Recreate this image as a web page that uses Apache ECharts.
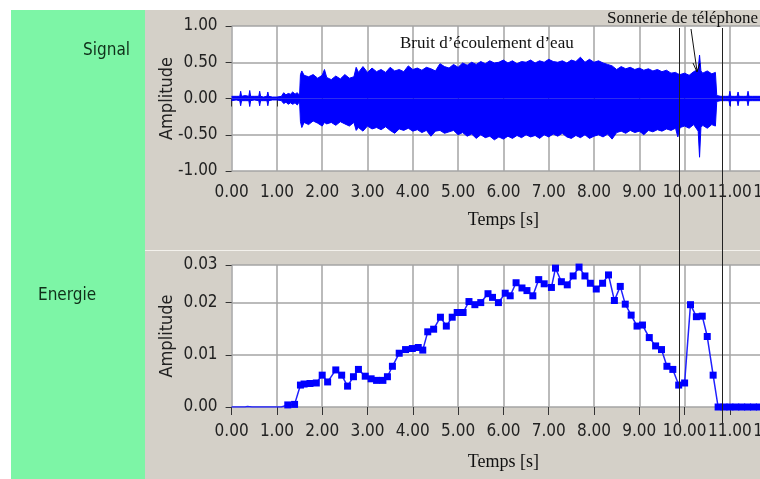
<!DOCTYPE html>
<html>
<head>
<meta charset="utf-8">
<script src="https://cdn.jsdelivr.net/npm/echarts@6/dist/echarts.min.js"></script>
<style>
html,body{margin:0;padding:0;background:#fff;}
#wrap{position:relative;width:760px;height:479px;overflow:hidden;}
#green{position:absolute;left:11px;top:10px;width:134px;height:469px;background:#7df5a6;}
#gray{position:absolute;left:145px;top:10px;width:615px;height:469px;background:#d4d0c8;}
#sep{position:absolute;left:145px;top:250px;width:615px;height:1px;background:#f3f1ec;}
#main{position:absolute;left:0;top:0;width:760px;height:479px;}
</style>
</head>
<body>
<div id="wrap">
  <div id="green"></div>
  <div id="gray"></div>
  <div id="sep"></div>
  <div id="main"></div>
</div>
<script>
// signal: envelope of the waveform (upper / lower)
var sigT  = [0, 0.1, 0.18, 0.2, 0.22, 0.3, 0.38, 0.4, 0.42, 0.5, 0.6, 0.62, 0.64, 0.7, 0.78, 0.8, 0.82, 0.9, 1.0, 1.1,
             1.15, 1.2, 1.25, 1.3, 1.35, 1.4, 1.45, 1.5, 1.52, 1.55, 1.6, 1.7, 1.8, 1.9, 2.0, 2.05, 2.1, 2.2, 2.3, 2.4,
             2.5, 2.6, 2.7, 2.75, 2.8, 2.9, 3.0, 3.1, 3.2, 3.3, 3.4, 3.5, 3.6, 3.7, 3.8, 3.9, 4.0, 4.1, 4.2, 4.3,
             4.4, 4.5, 4.6, 4.7, 4.8, 4.9, 5.0, 5.1, 5.2, 5.3, 5.4, 5.5, 5.6, 5.7, 5.8, 5.9, 6.0, 6.1, 6.2, 6.3,
             6.4, 6.5, 6.6, 6.7, 6.8, 6.9, 7.0, 7.1, 7.2, 7.3, 7.4, 7.5, 7.6, 7.7, 7.8, 7.9, 8.0, 8.1, 8.2, 8.3,
             8.4, 8.5, 8.6, 8.7, 8.8, 8.9, 9.0, 9.1, 9.2, 9.3, 9.4, 9.5, 9.6, 9.7, 9.8, 9.85, 9.9, 10.0, 10.1, 10.2,
             10.3, 10.33, 10.36, 10.4, 10.5, 10.6, 10.68, 10.71, 10.8, 10.9, 10.98, 11.0, 11.02, 11.1, 11.16, 11.18, 11.2, 11.3, 11.38, 11.4,
             11.42, 11.5, 11.6, 11.8, 12.0];
var sigHi = [0.03, 0.03, 0.03, 0.10, 0.03, 0.04, 0.03, 0.11, 0.03, 0.03, 0.03, 0.10, 0.03, 0.02, 0.03, 0.09, 0.03, 0.02, 0.02, 0.03,
             0.08, 0.05, 0.07, 0.06, 0.09, 0.06, 0.08, 0.04, 0.33, 0.38, 0.32, 0.30, 0.33, 0.28, 0.32, 0.40, 0.29, 0.26, 0.31, 0.27,
             0.33, 0.28, 0.30, 0.43, 0.36, 0.44, 0.36, 0.42, 0.37, 0.40, 0.36, 0.43, 0.38, 0.40, 0.37, 0.45, 0.40, 0.42, 0.39, 0.43,
             0.41, 0.38, 0.48, 0.44, 0.42, 0.47, 0.43, 0.49, 0.46, 0.50, 0.47, 0.51, 0.48, 0.52, 0.49, 0.50, 0.53, 0.49, 0.52, 0.48,
             0.51, 0.50, 0.53, 0.49, 0.52, 0.50, 0.54, 0.51, 0.50, 0.52, 0.49, 0.53, 0.51, 0.57, 0.50, 0.54, 0.50, 0.52, 0.49, 0.47,
             0.45, 0.40, 0.44, 0.41, 0.43, 0.40, 0.42, 0.39, 0.41, 0.38, 0.40, 0.37, 0.39, 0.35, 0.36, 0.34, 0.33, 0.35, 0.32, 0.37,
             0.40, 0.60, 0.38, 0.35, 0.38, 0.34, 0.36, 0.04, 0.03, 0.03, 0.03, 0.10, 0.03, 0.03, 0.03, 0.09, 0.03, 0.03, 0.03, 0.10,
             0.03, 0.03, 0.03, 0.03, 0.03];
var sigLo = [-0.03, -0.02, -0.03, -0.10, -0.03, -0.03, -0.03, -0.11, -0.03, -0.02, -0.03, -0.10, -0.03, -0.03, -0.03, -0.10, -0.03, -0.02, -0.02, -0.03,
             -0.07, -0.05, -0.08, -0.06, -0.08, -0.06, -0.09, -0.04, -0.32, -0.40, -0.33, -0.36, -0.31, -0.34, -0.38, -0.33, -0.35, -0.33, -0.37, -0.32,
             -0.35, -0.38, -0.33, -0.44, -0.40, -0.45, -0.38, -0.42, -0.40, -0.43, -0.39, -0.44, -0.48, -0.42, -0.44, -0.41, -0.45, -0.43, -0.47, -0.44,
             -0.52, -0.45, -0.44, -0.48, -0.46, -0.44, -0.50, -0.47, -0.52, -0.49, -0.55, -0.50, -0.54, -0.52, -0.57, -0.53, -0.56, -0.52, -0.55, -0.51,
             -0.54, -0.50, -0.53, -0.51, -0.55, -0.50, -0.53, -0.49, -0.52, -0.48, -0.53, -0.55, -0.51, -0.54, -0.50, -0.55, -0.52, -0.50, -0.53, -0.49,
             -0.56, -0.47, -0.45, -0.48, -0.44, -0.47, -0.45, -0.50, -0.44, -0.46, -0.43, -0.45, -0.42, -0.44, -0.41, -0.53, -0.40, -0.38, -0.41, -0.36,
             -0.45, -0.81, -0.40, -0.37, -0.41, -0.36, -0.38, -0.04, -0.03, -0.03, -0.03, -0.10, -0.03, -0.03, -0.03, -0.10, -0.03, -0.03, -0.03, -0.10,
             -0.03, -0.03, -0.03, -0.03, -0.03];

// energy curve, one point per marker
var enT = [0, 0.3, 0.35, 0.45, 1.1, 1.24, 1.39, 1.52, 1.6, 1.73, 1.87, 2.0, 2.12, 2.3, 2.43, 2.56, 2.69, 2.8, 2.95, 3.08,
           3.2, 3.34, 3.44, 3.55, 3.7, 3.84, 3.99, 4.12, 4.22, 4.33, 4.46, 4.61, 4.74, 4.87, 4.98, 5.11, 5.24, 5.37, 5.5, 5.66,
           5.76, 5.89, 6.04, 6.15, 6.28, 6.41, 6.52, 6.65, 6.78, 6.9, 7.06, 7.15, 7.28, 7.41, 7.54, 7.67, 7.8, 7.92, 8.05, 8.19,
           8.32, 8.45, 8.58, 8.69, 8.82, 8.95, 9.07, 9.22, 9.36, 9.49, 9.61, 9.74, 9.87, 10.0, 10.13, 10.26, 10.39, 10.5, 10.63, 10.74,
           10.87, 11.0, 11.13, 11.26, 11.39, 11.52, 11.65, 11.78, 11.91];
var enV = [0, 0, 0.0001, 0, 0, 0.0004, 0.0005, 0.0042, 0.0044, 0.0045, 0.0046, 0.0061, 0.0048, 0.0071, 0.0061, 0.0040, 0.0058, 0.0072, 0.0059, 0.0054,
           0.0051, 0.0051, 0.0058, 0.0078, 0.0103, 0.0110, 0.0112, 0.0114, 0.0109, 0.0144, 0.0149, 0.0172, 0.0155, 0.0172, 0.0181, 0.0181, 0.0202, 0.0196, 0.0200, 0.0217,
           0.0210, 0.0200, 0.0218, 0.0213, 0.0238, 0.0228, 0.0223, 0.0213, 0.0244, 0.0236, 0.0229, 0.0266, 0.0240, 0.0234, 0.0251, 0.0268, 0.0251, 0.0237, 0.0226, 0.0237,
           0.0253, 0.0204, 0.0231, 0.0197, 0.0176, 0.0155, 0.0157, 0.0133, 0.0117, 0.0110, 0.0078, 0.0072, 0.0042, 0.0046, 0.0196, 0.0173, 0.0174, 0.0135, 0.0061, 0,
           0, 0, 0, 0, 0, 0, 0, 0, 0];

// the two vertical cursor lines (s)
var markT = [9.88, 10.83];

var fNarrow = "'Liberation Sans Narrow', 'DejaVu Sans Condensed', 'Liberation Sans', sans-serif";
var fSerif = "'Liberation Serif', 'DejaVu Serif', serif";

var sigHiData = sigT.map(function (t, i) { return [t, sigHi[i]]; });
var sigLoData = sigT.map(function (t, i) { return [t, sigLo[i]]; });
var enData = enT.map(function (t, i) { return [t, enV[i]]; });

function xAx(idx, gap, margin) {
    return {
        gridIndex: idx, type: 'value', min: 0, max: 12, interval: 1,
        name: 'Temps [s]', nameLocation: 'middle', nameGap: gap, nameMoveOverlap: false,
        nameTextStyle: { fontFamily: fSerif, fontSize: 18, color: '#111' },
        axisLine: { show: false },
        axisTick: { show: true, length: 8, lineStyle: { color: '#333' } },
        axisLabel: { margin: margin, fontFamily: fNarrow, fontSize: 17, color: '#222',
            formatter: function (v) { return v.toFixed(2); } },
        splitLine: { show: true, lineStyle: { color: '#a4a4a4', width: 1.5 } }
    };
}
function yAx(idx, min, max, interval) {
    return {
        gridIndex: idx, type: 'value', min: min, max: max, interval: interval, offset: 5,
        name: 'Amplitude', nameLocation: 'middle', nameGap: 50, nameRotate: 90, nameMoveOverlap: false,
        nameTextStyle: { fontFamily: fNarrow, fontSize: 18, color: '#222' },
        axisLine: { show: false },
        axisTick: { show: true, length: 6, lineStyle: { color: '#333' } },
        axisLabel: { margin: 9, fontFamily: fNarrow, fontSize: 17, color: '#222',
            formatter: function (v) { return v.toFixed(2); } },
        splitLine: { show: true, lineStyle: { color: '#a4a4a4', width: 1.5 } }
    };
}

var myChart = echarts.init(document.getElementById('main'));
var option = {
    animation: false,
    backgroundColor: 'transparent',
    grid: [
        { left: 231.6, top: 26, width: 543.6, height: 145, show: true, backgroundColor: '#fff', borderWidth: 0, outerBoundsMode: 'none' },
        { left: 231.6, top: 265, width: 543.6, height: 142, show: true, backgroundColor: '#fff', borderWidth: 0, outerBoundsMode: 'none' }
    ],
    xAxis: [xAx(0, 40, 13), xAx(1, 46, 16)],
    yAxis: [yAx(0, -1, 1, 0.5), yAx(1, 0, 0.0272, 0.01)],
    series: [
        {
            name: 'hi', type: 'line', xAxisIndex: 0, yAxisIndex: 0, data: sigHiData,
            showSymbol: false, lineStyle: { color: '#0000ff', width: 1 },
            areaStyle: { color: '#0000ff', opacity: 1 }
        },
        {
            name: 'lo', type: 'line', xAxisIndex: 0, yAxisIndex: 0, data: sigLoData,
            showSymbol: false, lineStyle: { color: '#0000ff', width: 1 },
            areaStyle: { color: '#0000ff', opacity: 1 }
        },
        {
            name: 'energie', type: 'line', xAxisIndex: 1, yAxisIndex: 1, data: enData,
            symbol: 'rect',
            symbolSize: function (v) { return v[0] < 1.15 ? 0 : 7; },
            itemStyle: { color: '#0000ff' },
            lineStyle: { color: '#2020ff', width: 1.5 }
        }
    ]
};
myChart.setOption(option);

// annotations
var gx = markT.map(function (t) { return Math.round(myChart.convertToPixel({ xAxisIndex: 0 }, t)) + 0.5; });
myChart.setOption({
    graphic: [
        { type: 'text', right: 630, top: 42, style: { text: 'Signal', font: '17px ' + fNarrow, fill: '#10301a' } },
        { type: 'text', left: 38, top: 287, style: { text: 'Energie', font: '17px ' + fNarrow, fill: '#10301a' } },
        { type: 'text', left: 400, top: 35, style: { text: 'Bruit d\u2019\u00e9coulement d\u2019eau', font: '17px ' + fSerif, fill: '#111' } },
        { type: 'text', right: 2, top: 10, style: { text: 'Sonnerie de t\u00e9l\u00e9phone', font: '17px ' + fSerif, fill: '#111' } },
        { type: 'line', shape: { x1: gx[0], y1: 28, x2: gx[0], y2: 423 }, style: { stroke: '#222', lineWidth: 1 }, z: 100 },
        { type: 'line', shape: { x1: gx[1], y1: 28, x2: gx[1], y2: 423 }, style: { stroke: '#222', lineWidth: 1 }, z: 100 },
        { type: 'polyline', shape: { points: [[691, 29], [697, 71]] }, style: { stroke: '#111', lineWidth: 1 }, z: 100 },
        { type: 'polyline', shape: { points: [[693, 63], [697, 72], [700, 63]] }, style: { stroke: '#111', lineWidth: 1, fill: null }, z: 100 }
    ]
});
</script>
</body>
</html>
